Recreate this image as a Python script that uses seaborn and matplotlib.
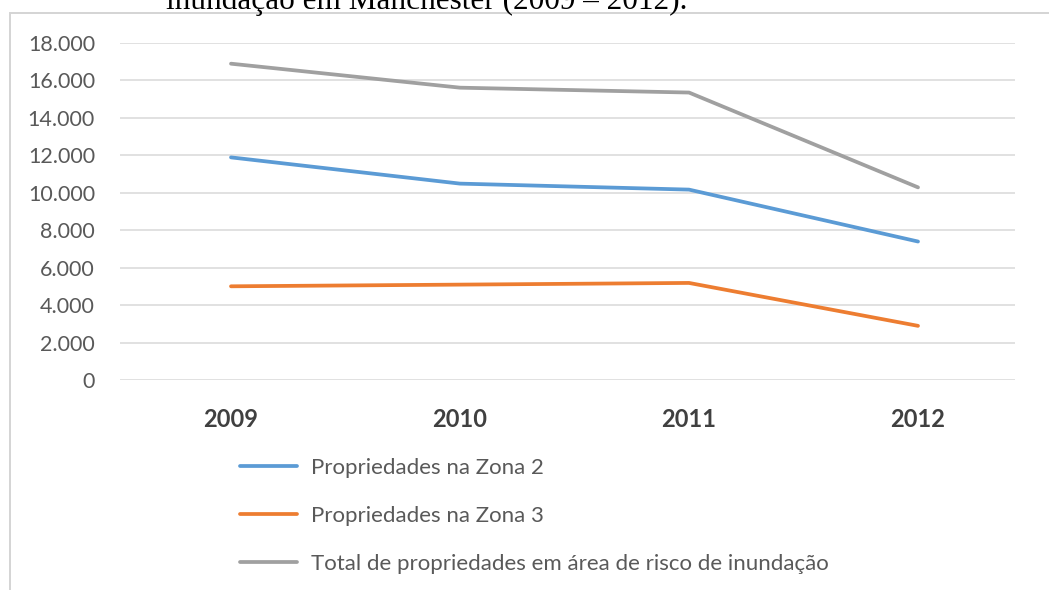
import matplotlib
matplotlib.use("Agg")
import matplotlib.pyplot as plt
from matplotlib.patches import Rectangle
from matplotlib.ticker import FuncFormatter
import seaborn as sns
import pandas as pd

# Data
years = ["2009", "2010", "2011", "2012"]
zona2 = [11880, 10480, 10160, 7390]
zona3 = [5000, 5090, 5180, 2890]
total = [16880, 15600, 15340, 10280]
series_names = [
    "Propriedades na Zona 2",
    "Propriedades na Zona 3",
    "Total de propriedades em área de risco de inundação",
]
y_ticks = [0, 2000, 4000, 6000, 8000, 10000, 12000, 14000, 16000, 18000]
caption = "inundação em Manchester (2009 – 2012)."

colors = ["#5b9bd5", "#ed7d31", "#a0a0a0"]

df = pd.DataFrame({
    "Ano": years * 3,
    "Valor": zona2 + zona3 + total,
    "Série": [series_names[0]] * 4 + [series_names[1]] * 4 + [series_names[2]] * 4,
})

sns.set_theme(style="white")
plt.rcParams["font.family"] = ["Lato", "DejaVu Sans"]

W, H = 1049, 590
fig = plt.figure(figsize=(W / 100, H / 100), dpi=100)
fig.patch.set_facecolor("white")

# Outer chart frame
frame = Rectangle((10 / W, -0.05), 1.2, 1 - 13 / H + 0.05, transform=fig.transFigure,
                  fill=False, edgecolor="#d4d4d4", linewidth=1.4, zorder=0)
fig.patches.append(frame)

# Caption line running off the top edge
fig.text(166 / W, 1 - 9 / H, caption, family=["Liberation Serif", "DejaVu Serif"],
         fontsize=22.5, color="black", ha="left", va="baseline", zorder=5)

left, right, top, bottom = 120, 1015, 42.7, 380
ax = fig.add_axes([left / W, 1 - bottom / H, (right - left) / W, (bottom - top) / H])
ax.set_facecolor("white")

sns.lineplot(data=df, x="Ano", y="Valor", hue="Série", palette=colors,
             hue_order=series_names, linewidth=2.7, ax=ax, sort=False)
for ln in ax.get_lines():
    ln.set_solid_capstyle("round")
    ln.set_solid_joinstyle("round")

# x positions: 0 at px 231, 3 at px 918
ppu = (918 - 231) / 3
ax.set_xlim(-(231 - left) / ppu, 3 + (right - 918) / ppu)
ax.set_ylim(0, 18000)
ax.set_yticks(y_ticks)
ax.yaxis.set_major_formatter(FuncFormatter(lambda v, p: f"{int(v):,}".replace(",", ".")))
ax.grid(axis="y", color="#d9d9d9", linewidth=1.1)
ax.grid(axis="x", visible=False)
for s in ax.spines.values():
    s.set_visible(False)
ax.tick_params(axis="y", length=0, pad=18, labelsize=15.5, labelcolor="#595959")
ax.tick_params(axis="x", length=0, pad=20, labelsize=17, labelcolor="#404040")
for t in ax.get_xticklabels():
    t.set_fontweight("bold")
ax.set_xlabel("")
ax.set_ylabel("")

handles, labels = ax.get_legend_handles_labels()
ax.get_legend().remove()
leg = fig.legend(handles, labels, loc="upper left",
                 bbox_to_anchor=(240 / W, 1 - 458 / H), frameon=False,
                 fontsize=16, handlelength=2.55, handletextpad=0.65,
                 labelspacing=1.25, borderpad=0, borderaxespad=0)
for t in leg.get_texts():
    t.set_color("#595959")
for h in leg.get_lines():
    h.set_linewidth(2.7)

fig.savefig("out.png", dpi=100)
